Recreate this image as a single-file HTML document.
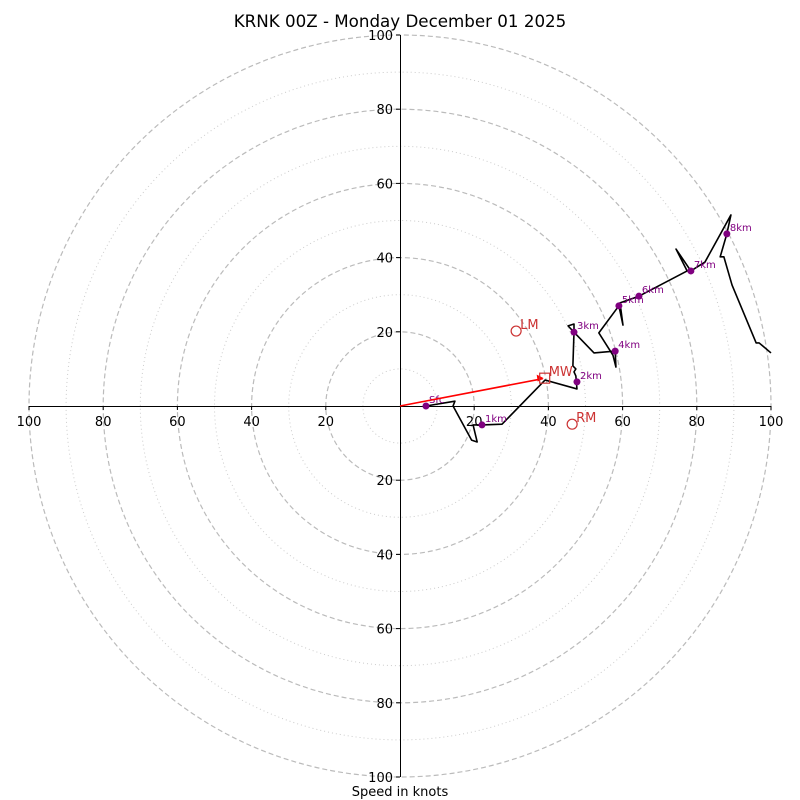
<!DOCTYPE html>
<html><head><meta charset="utf-8"><style>
html,body{margin:0;padding:0;background:#fff}
svg{display:block;font-family:"DejaVu Sans","Liberation Sans",sans-serif}
</style></head><body>
<svg id="chart" width="800" height="800" viewBox="0 0 800 800">
<text x="400" y="27" text-anchor="middle" font-size="16.7">KRNK 00Z - Monday December 01 2025</text>
<text x="400" y="796" text-anchor="middle" font-size="13">Speed in knots</text>
<g id="grid"></g><g id="axes"></g><g id="trace"></g><g id="marks"></g>
</svg>
<script>
const ringValues=[10,20,30,40,50,60,70,80,90,100];
const tickLabels=[20,40,60,80,100];
const traceU=[7.0,14.8,14.3,19.3,20.8,19.7,22.1,27.5,39.1,47.7,47.4,46.9,47.4,46.6,46.9,45.3,46.9,46.9,52.3,58.0,58.2,57.4,53.6,59.0,60.1,59.3,64.4,77.4,74.4,78.4,82.2,89.2,88.1,86.3,87.3,89.5,96.0,96.8,100];
const traceV=[0,1.3,0,-9.2,-9.7,-5.1,-5.1,-4.9,7.0,4.6,8.1,9.2,10.0,10.8,19.9,21.6,22.1,19.9,14.3,14.8,10.5,13.7,19.7,27.0,21.8,27.8,29.6,36.4,42.3,36.4,38.8,51.5,46.4,40.2,40.2,32.6,17.0,17.0,14.3];
const heightLabels=["Sfc","1km","2km","3km","4km","5km","6km","7km","8km"];
const heightU=[7.0,22.1,47.7,46.9,58.0,59.0,64.4,78.4,88.1];
const heightV=[0,-5.1,6.5,19.9,14.8,27.0,29.6,36.4,46.4];
const motionLabels=["LM","MW","RM"];
const motionU=[31.3,39.0,46.4];
const motionV=[20.2,7.5,-4.9];
const CX=400,CY=406,K=3.71;
const sx=u=>CX+u*K, sy=v=>CY-v*K;
const NS="http://www.w3.org/2000/svg";
function mk(tag,attrs,parent,txt){const e=document.createElementNS(NS,tag);for(const k in attrs)e.setAttribute(k,attrs[k]);if(txt!==undefined)e.textContent=txt;parent.appendChild(e);return e;}
const grid=document.getElementById('grid'),axes=document.getElementById('axes'),trace=document.getElementById('trace'),marks=document.getElementById('marks');
ringValues.forEach(r=>{
 const c=mk('circle',{cx:CX,cy:CY,r:r*K,fill:'none',stroke:r%20===0?'#bbb':'#ccc','stroke-width':r%20===0?1.2:1,'stroke-dasharray':r%20===0?'5,3':'1,3'},grid);
 
 
});
let l=mk('line',{x1:sx(-100),y1:CY+0.5,x2:sx(100),y2:CY+0.5,stroke:'#000','stroke-width':1},axes);


l=mk('line',{x1:CX+0.5,y1:sy(100),x2:CX+0.5,y2:sy(-100),stroke:'#000','stroke-width':1},axes);


tickLabels.forEach(t=>{
 [t,-t].forEach(v=>{
  mk('line',{x1:sx(v),y1:CY,x2:sx(v),y2:CY+4,stroke:'#000'},axes);
  let tx=mk('text',{x:sx(v),y:CY+20,'text-anchor':'middle','font-size':13},axes,String(t));
  
  
  mk('line',{x1:CX-4,y1:sy(v),x2:CX,y2:sy(v),stroke:'#000'},axes);
  tx=mk('text',{x:CX-7,y:sy(v)+5,'text-anchor':'end','font-size':13},axes,String(t));
  
  
 });
});
const pts=traceU.map((u,i)=>sx(u)+','+sy(traceV[i])).join(' ');
const pl=mk('polyline',{points:pts,fill:'none',stroke:'#000','stroke-width':1.6,'stroke-linejoin':'round'},trace);


heightLabels.forEach((h,i)=>{
 const d=mk('circle',{cx:sx(heightU[i]),cy:sy(heightV[i]),r:3.5,fill:'purple'},marks);
 
 
 const t=mk('text',{x:sx(heightU[i])+3,y:sy(heightV[i])-3,'font-size':10,fill:'purple'},marks,h);
 
 
});
const ar=mk('line',{x1:CX,y1:CY,x2:sx(motionU[1])-2,y2:sy(motionV[1])+0.5,stroke:'red','stroke-width':1.6},marks);


const ax=sx(motionU[1])-1,ay=sy(motionV[1]);
const ah=mk('polygon',{points:`${ax},${ay} ${ax-7},${ay-3.5} ${ax-6},${ay+3.5}`,fill:'red'},marks);


motionLabels.forEach((m,i)=>{
 const x=sx(motionU[i]),y=sy(motionV[i]);
 let s;
 if(m==='MW') s=mk('rect',{x:x-5,y:y-5,width:10,height:10,fill:'none',stroke:'#c33','stroke-width':1.2},marks);
 else s=mk('circle',{cx:x,cy:y,r:5,fill:'none',stroke:'#c33','stroke-width':1.2},marks);
 
 
 const t=mk('text',{x:x+4,y:y-2,'font-size':13,fill:'#c33'},marks,m);
 
 
});
</script>
</body></html>
